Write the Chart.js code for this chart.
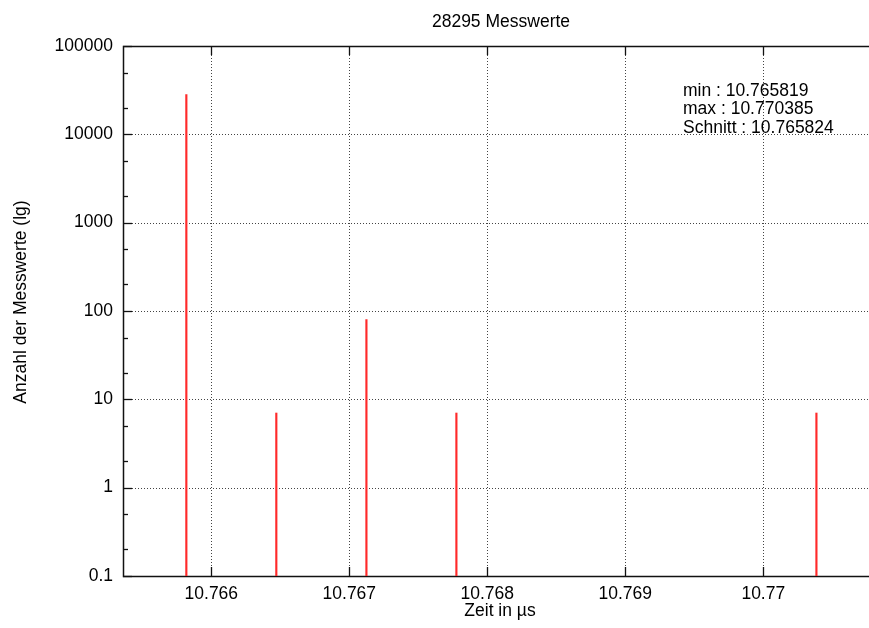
<!DOCTYPE html>
<html lang="de">
<head>
    <meta charset="UTF-8">
    <title>28295 Messwerte</title>
    <script src="https://cdn.jsdelivr.net/npm/chart.js"></script>
    <style>
        body { margin: 0; background: #fff; }
        #wrap { width: 869px; height: 628px; }
    </style>
</head>
<body>
    <div id="wrap">
        <canvas id="histChart" width="869" height="628"></canvas>
    </div>
    <script>
        // Histogram data (time bins in µs, counts)
        const binTimes = [10.765819, 10.766471, 10.767124, 10.767776, 10.770385];
        const binCounts = [28194, 7, 80, 7, 7];

        const xTickValues = [10.766, 10.767, 10.768, 10.769, 10.770];
        const xTickLabels = ['10.766', '10.767', '10.768', '10.769', '10.77'];
        const yTickValues = [0.1, 1, 10, 100, 1000, 10000, 100000];
        const yTickLabels = ['0.1', '1', '10', '100', '1000', '10000', '100000'];
        const yMinorFactors = [2, 5];

        const titleText = '28295 Messwerte';
        const xTitle = 'Zeit in µs';
        const yTitle = 'Anzahl der Messwerte (lg)';
        const statLines = ['min : 10.765819', 'max : 10.770385', 'Schnitt : 10.765824'];

        const FONT = "'Liberation Sans', Arial, sans-serif";

        // grid, frame and inward tick marks, gnuplot style
        const framePlugin = {
            id: 'frame',
            beforeDatasetsDraw(chart) {
                const { ctx, chartArea: a, scales: { x, y } } = chart;
                ctx.save();
                ctx.strokeStyle = '#444';
                ctx.lineWidth = 1;
                ctx.setLineDash([1, 2]);
                xTickValues.forEach(v => {
                    const px = Math.round(x.getPixelForValue(v)) + 0.5;
                    ctx.beginPath(); ctx.moveTo(px, a.top); ctx.lineTo(px, a.bottom); ctx.stroke();
                });
                yTickValues.forEach(v => {
                    const py = Math.round(y.getPixelForValue(v)) + 0.5;
                    ctx.beginPath(); ctx.moveTo(a.left, py); ctx.lineTo(a.right, py); ctx.stroke();
                });
                ctx.setLineDash([]);
                ctx.strokeStyle = '#111';
                ctx.lineWidth = 1.3;
                // ticks
                xTickValues.forEach(v => {
                    const px = Math.round(x.getPixelForValue(v)) + 0.5;
                    ctx.beginPath();
                    ctx.moveTo(px, a.bottom); ctx.lineTo(px, a.bottom - 9);
                    ctx.moveTo(px, a.top); ctx.lineTo(px, a.top + 9);
                    ctx.stroke();
                });
                yTickValues.forEach(v => {
                    const py = Math.round(y.getPixelForValue(v)) + 0.5;
                    ctx.beginPath(); ctx.moveTo(a.left, py); ctx.lineTo(a.left + 9, py); ctx.stroke();
                    yMinorFactors.forEach(f => {
                        const m = v * f;
                        if (m > y.max) return;
                        const pm = Math.round(y.getPixelForValue(m)) + 0.5;
                        ctx.beginPath(); ctx.moveTo(a.left, pm); ctx.lineTo(a.left + 5, pm); ctx.stroke();
                    });
                });
                // frame: left, bottom, top
                ctx.lineWidth = 1.5;
                ctx.beginPath();
                ctx.moveTo(a.right, a.top + 0.5);
                ctx.lineTo(a.left + 0.5, a.top + 0.5);
                ctx.lineTo(a.left + 0.5, a.bottom + 0.5);
                ctx.lineTo(a.right, a.bottom + 0.5);
                ctx.stroke();
                ctx.restore();
            },
            afterDraw(chart) {
                const { ctx } = chart;
                ctx.save();
                ctx.fillStyle = '#000';
                ctx.textBaseline = 'alphabetic';
                ctx.font = '17.5px ' + FONT;
                ctx.textAlign = 'center';
                ctx.fillText(titleText, 501, 27);
                ctx.fillText(xTitle, 500, 616);
                ctx.save();
                ctx.translate(26, 302);
                ctx.rotate(-Math.PI / 2);
                ctx.fillText(yTitle, 0, 0);
                ctx.restore();
                ctx.textAlign = 'left';
                statLines.forEach((s, i) => ctx.fillText(s, 683, 96 + i * 18.3));
                ctx.restore();
            }
        };

        const ctx = document.getElementById('histChart').getContext('2d');
        new Chart(ctx, {
            type: 'bar',
            data: {
                datasets: [{
                    data: binTimes.map((t, i) => ({ x: t, y: binCounts[i] })),
                    backgroundColor: '#ff2a2a',
                    borderWidth: 0,
                    barThickness: 1.5
                }]
            },
            options: {
                responsive: false,
                animation: false,
                devicePixelRatio: 1,
                layout: { padding: { top: 46, left: 0, right: 0, bottom: 0 } },
                plugins: {
                    legend: { display: false },
                    tooltip: { enabled: false },
                    title: { display: false }
                },
                scales: {
                    x: {
                        type: 'linear',
                        offset: false,
                        min: 10.76536,
                        max: 10.770766,
                        grid: { display: false, drawTicks: false },
                        border: { display: false },
                        afterBuildTicks: s => { s.ticks = xTickValues.map(v => ({ value: v })); },
                        afterFit: s => { s.height = 52; },
                        ticks: {
                            padding: 8,
                            color: '#000',
                            font: { family: FONT, size: 17.5 },
                            maxRotation: 0,
                            callback: (v, i) => xTickLabels[i]
                        }
                    },
                    y: {
                        type: 'logarithmic',
                        min: 0.1,
                        max: 100000,
                        grid: { display: false, drawTicks: false },
                        border: { display: false },
                        afterBuildTicks: s => { s.ticks = yTickValues.map(v => ({ value: v })); },
                        afterFit: s => { s.width = 123; },
                        ticks: {
                            padding: 10,
                            color: '#000',
                            font: { family: FONT, size: 17.5 },
                            callback: (v, i) => yTickLabels[i]
                        }
                    }
                }
            },
            plugins: [framePlugin]
        });
    </script>
</body>
</html>
